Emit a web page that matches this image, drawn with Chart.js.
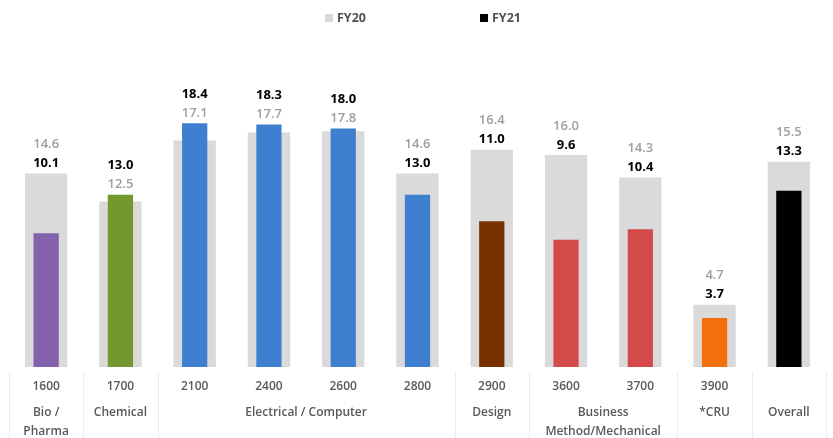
<!DOCTYPE html>
<html>
<head>
<meta charset="utf-8">
<script src="https://cdn.jsdelivr.net/npm/chart.js@4/dist/chart.umd.min.js"></script>
<style>
  html, body { margin: 0; padding: 0; background: #fff; }
  #wrap { width: 833px; height: 438px; }
</style>
</head>
<body>
<div id="wrap"><canvas id="chart" width="833" height="438"></canvas></div>
<script>
const codes = ['1600', '1700', '2100', '2400', '2600', '2800', '2900', '3600', '3700', '3900', ''];
const fy20 = [14.6, 12.5, 17.1, 17.7, 17.8, 14.6, 16.4, 16.0, 14.3, 4.7, 15.5];
const fy21 = [10.1, 13.0, 18.4, 18.3, 18.0, 13.0, 11.0, 9.6, 10.4, 3.7, 13.3];
const fy21Colors = ['#8461ad', '#72982f', '#3f7fd0', '#3f7fd0', '#3f7fd0', '#3f7fd0', '#7a3100', '#d44a4a', '#d44a4a', '#f2700c', '#000000'];

const groupNames = [['Bio /', 'Pharma'], ['Chemical'], ['Electrical / Computer'], ['Design'], ['Business', 'Method/Mechanical'], ['*CRU'], ['Overall']];
const groupStart = [0, 1, 2, 6, 7, 9, 10];
const groupEnd = [0, 1, 5, 6, 8, 9, 10];

const FONT = '"Open Sans", "Noto Sans", sans-serif';

// value labels above each pair of bars, larger value on top
const valueLabels = {
    id: 'valueLabels',
    afterDatasetsDraw(chart) {
        const ctx = chart.ctx;
        const x = chart.scales.x;
        const y = chart.scales.y;
        ctx.save();
        ctx.textAlign = 'center';
        ctx.textBaseline = 'middle';
        codes.forEach((c, i) => {
            const cx = x.getPixelForValue(i);
            const top = y.getPixelForValue(Math.max(fy20[i], fy21[i]));
            const items = [
                { v: fy20[i], font: '600 13px ' + FONT, color: '#9e9e9e' },
                { v: fy21[i], font: 'bold 13px ' + FONT, color: '#000' }
            ].sort((a, b) => a.v - b.v);
            items.forEach((it, k) => {
                ctx.font = it.font;
                ctx.fillStyle = it.color;
                ctx.fillText(it.v.toFixed(1), cx, top - 10 - k * 19);
            });
        });
        ctx.restore();
    }
};

// group names, separators and legend
const extras = {
    id: 'extras',
    afterDraw(chart) {
        const ctx = chart.ctx;
        const x = chart.scales.x;
        const half = x.width / codes.length / 2;
        const bottom = chart.chartArea.bottom;
        ctx.save();
        ctx.strokeStyle = '#ececec';
        ctx.lineWidth = 1;
        const edges = groupStart.map(s => x.getPixelForValue(s) - half);
        edges.push(x.getPixelForValue(codes.length - 1) + half);
        edges.forEach(e => {
            ctx.beginPath();
            ctx.moveTo(Math.round(e) + 0.5, bottom + 5);
            ctx.lineTo(Math.round(e) + 0.5, chart.height);
            ctx.stroke();
        });

        ctx.font = '600 12px ' + FONT;
        ctx.fillStyle = '#595959';
        ctx.textAlign = 'center';
        ctx.textBaseline = 'middle';
        groupNames.forEach((lines, g) => {
            const cx = (x.getPixelForValue(groupStart[g]) + x.getPixelForValue(groupEnd[g])) / 2;
            lines.forEach((t, k) => ctx.fillText(t, cx, bottom + 46 + k * 19));
        });

        // legend
        const legend = [
            { label: chart.data.datasets[0].label, color: '#dadada', x: 325 },
            { label: chart.data.datasets[1].label, color: '#000', x: 480 }
        ];
        ctx.textAlign = 'left';
        ctx.font = 'bold 12.5px ' + FONT;
        legend.forEach(l => {
            ctx.fillStyle = l.color;
            ctx.fillRect(l.x, 14, 8, 8);
            ctx.fillStyle = '#505050';
            ctx.fillText(l.label, l.x + 12, 18.5);
        });
        ctx.restore();
    }
};

new Chart(document.getElementById('chart'), {
    type: 'bar',
    data: {
        labels: codes,
        datasets: [{
            label: 'FY20',
            data: fy20,
            backgroundColor: '#dadada',
            grouped: false,
            barPercentage: 0.57,
            categoryPercentage: 1,
            order: 1
        }, {
            label: 'FY21',
            data: fy21,
            backgroundColor: fy21Colors,
            grouped: false,
            barPercentage: 0.34,
            categoryPercentage: 1,
            order: 0
        }]
    },
    options: {
        responsive: false,
        animation: false,
        layout: { padding: { top: 75.5, left: 9, right: 7, bottom: 0 } },
        scales: {
            x: {
                grid: { display: false, drawTicks: false },
                border: { display: false },
                ticks: {
                    padding: 12,
                    color: '#595959',
                    font: { family: FONT, size: 12, weight: '600' }
                },
                afterFit: s => { s.height = 71; }
            },
            y: {
                display: false,
                min: 0,
                max: 22
            }
        },
        plugins: {
            legend: { display: false },
            tooltip: { enabled: false }
        }
    },
    plugins: [valueLabels, extras]
});
</script>
</body>
</html>
